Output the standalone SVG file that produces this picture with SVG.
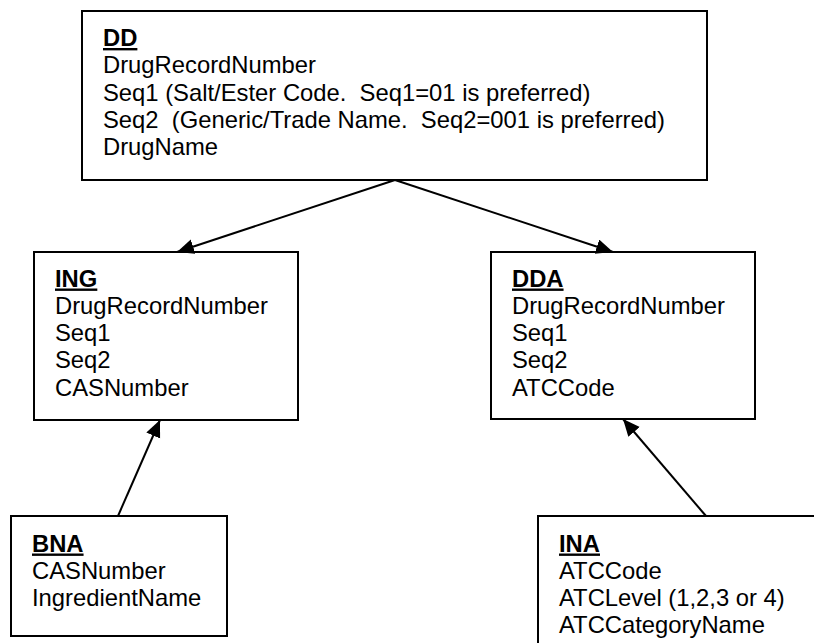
<svg xmlns="http://www.w3.org/2000/svg" width="814" height="643" viewBox="0 0 814 643">
<style>
.box{fill:#fff;stroke:#000;stroke-width:2}
text{font-family:"Liberation Sans",Arial,sans-serif;font-size:23.8px;fill:#000}
.h{font-weight:bold;text-decoration:underline}
.c{stroke:#000;stroke-width:2;fill:none;marker-end:url(#ah)}
</style>
<defs>
<marker id="ah" markerUnits="userSpaceOnUse" markerWidth="18" markerHeight="16" refX="17" refY="7.5" orient="auto">
<path d="M0,0 L17,7.5 L0,15 z" fill="#000"/>
</marker>
</defs>
<rect width="814" height="643" fill="#fff"/>
<g id="DD">
<rect class="box" x="82" y="11" width="625" height="169"/>
<text x="103" y="46" class="h">DD</text>
<text x="103" y="73.3">DrugRecordNumber</text>
<text x="103" y="100.6" xml:space="preserve">Seq1 (Salt/Ester Code.  Seq1=01 is preferred)</text>
<text x="103" y="127.9" xml:space="preserve">Seq2  (Generic/Trade Name.  Seq2=001 is preferred)</text>
<text x="103" y="155.2">DrugName</text>
</g>
<g id="ING">
<rect class="box" x="34" y="252" width="264" height="168"/>
<text x="55" y="286.5" class="h">ING</text>
<text x="55" y="313.8">DrugRecordNumber</text>
<text x="55" y="341.1">Seq1</text>
<text x="55" y="368.4">Seq2</text>
<text x="55" y="395.7">CASNumber</text>
</g>
<g id="DDA">
<rect class="box" x="491" y="252" width="264" height="167"/>
<text x="512" y="286.5" class="h">DDA</text>
<text x="512" y="313.8">DrugRecordNumber</text>
<text x="512" y="341.1">Seq1</text>
<text x="512" y="368.4">Seq2</text>
<text x="512" y="395.7">ATCCode</text>
</g>
<g id="BNA">
<rect class="box" x="11" y="516" width="216" height="120"/>
<text x="32" y="551.5" class="h">BNA</text>
<text x="32" y="578.8">CASNumber</text>
<text x="32" y="606.1">IngredientName</text>
</g>
<g id="INA">
<rect class="box" x="538" y="516" width="300" height="150"/>
<text x="559" y="551.5" class="h">INA</text>
<text x="559" y="578.8">ATCCode</text>
<text x="559" y="606.1">ATCLevel (1,2,3 or 4)</text>
<text x="559" y="633.4">ATCCategoryName</text>
</g>
<g id="connectors">
<line class="c" x1="395" y1="180" x2="177" y2="252"/>
<line class="c" x1="395" y1="180" x2="613" y2="252"/>
<line class="c" x1="118" y1="516" x2="160" y2="420"/>
<line class="c" x1="706" y1="516" x2="623" y2="419"/>
</g>
</svg>
